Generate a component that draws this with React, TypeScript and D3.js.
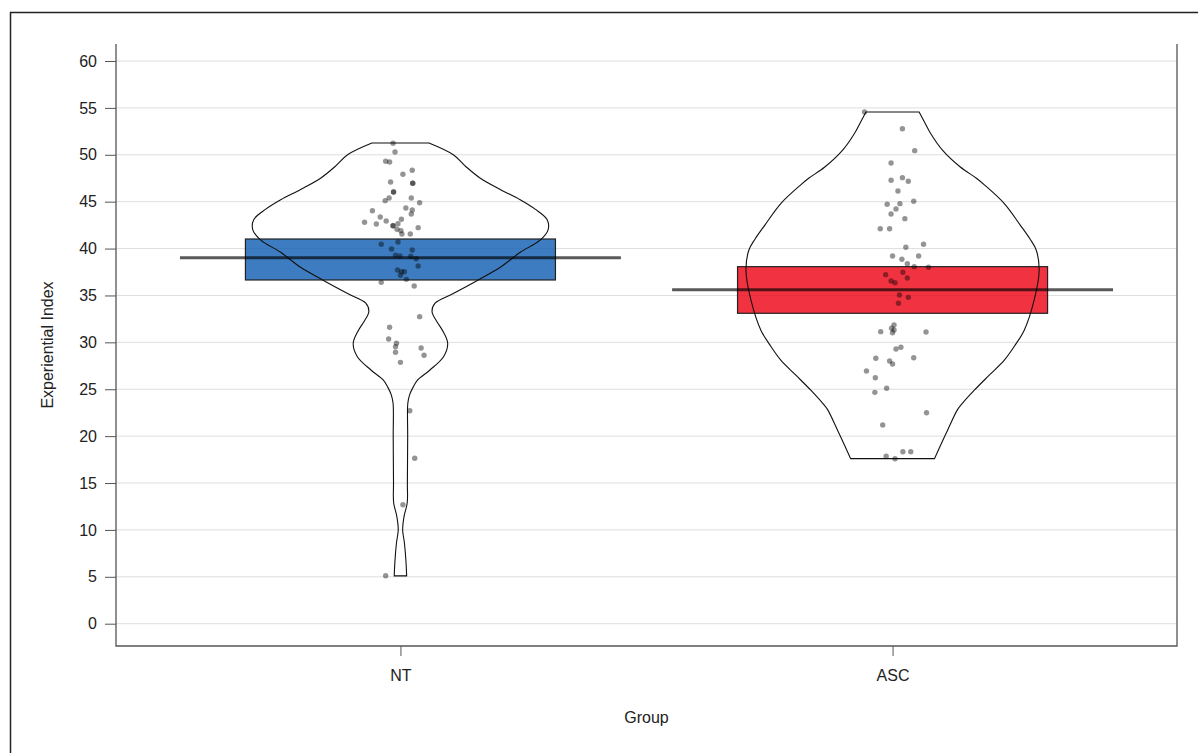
import React, { useRef, useEffect } from 'react';
import * as d3 from 'd3';

const groups = ['NT', 'ASC'];
const groupColors = ['#0C5BB0', '#EE0011'];

const means = [39.03, 35.62];
const bandLow = [36.65, 33.1];
const bandHigh = [41.02, 38.07];

const yTicks = [0, 5, 10, 15, 20, 25, 30, 35, 40, 45, 50, 55, 60];

// raw points: [jitter (category units), value]
const ntPoints = [
  [-0.015, 51.23], [-0.011, 50.3], [-0.03, 49.31], [-0.022, 49.23], [0.005, 47.92],
  [0.024, 48.35], [-0.02, 47.1], [0.025, 46.96], [0.025, 46.96], [-0.014, 46.03],
  [-0.014, 46.03], [-0.031, 45.11], [-0.023, 45.39], [0.022, 45.39], [0.039, 44.89],
  [-0.057, 44.04], [0.011, 44.33], [0.024, 44.11], [0.022, 43.69], [-0.041, 43.37],
  [-0.029, 42.94], [-0.073, 42.8], [-0.049, 42.62], [0.002, 43.12], [-0.005, 42.65],
  [-0.015, 42.44], [-0.015, 42.44], [-0.007, 42.06], [0.001, 41.91], [0.036, 42.23],
  [0.02, 41.56], [0.003, 41.56], [-0.005, 40.7], [-0.039, 40.46], [-0.018, 39.96],
  [0.024, 39.85], [-0.01, 39.28], [-0.001, 39.21], [0.021, 39.18], [0.032, 38.92],
  [0.036, 38.14], [-0.006, 37.72], [0.002, 37.53], [0.008, 37.53], [0.0, 37.15],
  [0.012, 36.72], [-0.039, 36.4], [0.028, 36.01], [0.039, 32.74], [-0.022, 31.61],
  [-0.024, 30.36], [-0.008, 29.9], [-0.01, 29.54], [-0.01, 28.94], [0.042, 29.4],
  [0.048, 28.62], [0.0, 27.87], [0.019, 22.71], [0.029, 17.64], [0.005, 12.69],
  [-0.03, 5.12],
];

const ascPoints = [
  [-0.057, 54.56], [0.02, 52.78], [0.045, 50.44], [-0.003, 49.13], [-0.003, 47.28],
  [0.02, 47.56], [0.032, 47.17], [0.011, 46.14], [0.043, 45.04], [-0.011, 44.72],
  [0.015, 44.79], [0.007, 44.22], [-0.003, 43.69], [0.025, 43.19], [-0.025, 42.12],
  [-0.006, 42.12], [0.063, 40.46], [0.027, 40.14], [0.0, 39.21], [0.019, 38.86],
  [0.053, 39.21], [0.03, 38.39], [0.044, 38.07], [0.073, 38.0], [-0.014, 37.22],
  [0.021, 37.47], [0.03, 36.86], [-0.003, 36.54], [0.005, 36.36], [0.014, 35.05],
  [0.032, 34.8], [0.012, 34.17], [0.003, 31.85], [-0.002, 31.5], [0.003, 31.32],
  [0.0, 31.03], [-0.024, 31.14], [0.068, 31.1], [0.017, 29.47], [0.007, 29.29],
  [-0.034, 28.3], [0.043, 28.36], [-0.006, 28.01], [0.0, 27.69], [-0.053, 26.95],
  [-0.035, 26.23], [-0.012, 25.1], [-0.036, 24.67], [0.069, 22.5], [-0.02, 21.19],
  [0.021, 18.34], [0.037, 18.34], [-0.013, 17.85], [0.005, 17.59],
];

// bean outline: [value, relative density]
const ntDensity = [
  [51.25, 0.193], [50.0, 0.358], [48.7, 0.446], [47.5, 0.541], [46.3, 0.676],
  [45.2, 0.811], [44.2, 0.912], [43.1, 0.993], [42.0, 1.0], [40.9, 0.946],
  [39.6, 0.811], [38.0, 0.676], [36.65, 0.527], [35.2, 0.358], [34.2, 0.236],
  [33.3, 0.214], [32.3, 0.243], [31.3, 0.284], [29.9, 0.32], [28.5, 0.293],
  [27.05, 0.2], [26.0, 0.117], [25.2, 0.085], [24.4, 0.062], [23.5, 0.05],
  [20.0, 0.049], [15.0, 0.047], [12.9, 0.046], [11.4, 0.024], [10.0, 0.015],
  [8.6, 0.027], [6.5, 0.038], [5.1, 0.042],
];

const ascDensity = [
  [54.56, 0.18], [53.5, 0.216], [52.3, 0.257], [50.5, 0.338], [48.7, 0.459],
  [47.5, 0.568], [46.8, 0.622], [44.8, 0.757], [42.5, 0.865], [41.0, 0.932],
  [39.85, 0.973], [37.7, 0.993], [34.5, 0.959], [31.3, 0.892], [29.7, 0.83],
  [28.1, 0.757], [26.5, 0.655], [24.9, 0.554], [23.5, 0.473], [22.8, 0.439],
  [20.6, 0.372], [19.9, 0.351], [17.6, 0.284],
];

const pointSets = [ntPoints, ascPoints];
const densities = [ntDensity, ascDensity];

const WIDTH = 1198;
const HEIGHT = 753;

export default function App() {
  const svgRef = useRef<SVGSVGElement>(null);

  useEffect(() => {
    document.body.style.margin = '0';
    const svg = d3.select(svgRef.current);
    svg.selectAll('*').remove();

    const left = 116, right = 1177, top = 44, bottom = 646;
    const font = '"Liberation Sans", Arial, sans-serif';
    const fontSize = 16;

    const x = d3.scalePoint<string>().domain(groups).range([left, right]).padding(0.578);
    const step = x.step();
    const y = d3.scaleLinear().domain([0, 60]).range([623.7, 61]);

    // outer frame
    svg.append('rect')
      .attr('x', 10.5).attr('y', 12.5)
      .attr('width', 1400).attr('height', 1000)
      .attr('fill', 'none').attr('stroke', '#222').attr('stroke-width', 1.5);

    // grid
    svg.append('g').selectAll('line')
      .data(yTicks)
      .enter().append('line')
      .attr('x1', left).attr('x2', right)
      .attr('y1', d => y(d)).attr('y2', d => y(d))
      .attr('stroke', '#dedede').attr('stroke-width', 1);

    const plot = svg.append('g');

    groups.forEach((g, i) => {
      const cx = x(g) as number;

      // inference band
      plot.append('rect')
        .attr('x', cx - step * 0.315)
        .attr('width', step * 0.63)
        .attr('y', y(bandHigh[i]))
        .attr('height', y(bandLow[i]) - y(bandHigh[i]))
        .attr('fill', groupColors[i]).attr('fill-opacity', 0.8)
        .attr('stroke', '#222').attr('stroke-width', 1.2);

      // bean
      const maxHalf = step * 0.3;
      const area = d3.area<number[]>()
        .y(d => y(d[0]))
        .x0(d => cx - d[1] * maxHalf)
        .x1(d => cx + d[1] * maxHalf)
        .curve(d3.curveCatmullRom);
      plot.append('path')
        .attr('d', area(densities[i]))
        .attr('fill', 'none').attr('stroke', '#111').attr('stroke-width', 1.1);

      // points
      plot.append('g').selectAll('circle')
        .data(pointSets[i])
        .enter().append('circle')
        .attr('cx', d => cx + d[0] * step)
        .attr('cy', d => y(d[1]))
        .attr('r', 2.7)
        .attr('fill', '#000').attr('fill-opacity', 0.42);

      // mean line
      plot.append('line')
        .attr('x1', cx - step * 0.448).attr('x2', cx + step * 0.448)
        .attr('y1', y(means[i])).attr('y2', y(means[i]))
        .attr('stroke', '#000').attr('stroke-opacity', 0.65).attr('stroke-width', 3);
    });

    // axes
    const yAxis = d3.axisLeft(y).tickValues(yTicks).tickSize(11).tickPadding(8).tickSizeOuter(0);
    const ya = svg.append('g').attr('transform', `translate(${left},0)`).call(yAxis);
    ya.select('.domain').remove();
    ya.selectAll('line').attr('stroke', '#555');
    ya.selectAll('text').attr('font-family', font).attr('font-size', fontSize).attr('fill', '#222');

    const xAxis = d3.axisBottom(x).tickSize(10).tickPadding(14).tickSizeOuter(0);
    const xa = svg.append('g').attr('transform', `translate(0,${bottom})`).call(xAxis);
    xa.select('.domain').remove();
    xa.selectAll('line').attr('stroke', '#555');
    xa.selectAll('text').attr('font-family', font).attr('font-size', fontSize).attr('fill', '#222');

    // plot border: left, bottom, right
    svg.append('path')
      .attr('d', `M${left},${top}V${bottom}H${right}V${top}`)
      .attr('fill', 'none').attr('stroke', '#555').attr('stroke-width', 1.3);

    // titles
    svg.append('text')
      .attr('x', (left + right) / 2).attr('y', 723)
      .attr('text-anchor', 'middle')
      .attr('font-family', font).attr('font-size', fontSize).attr('fill', '#222')
      .text('Group');

    svg.append('text')
      .attr('transform', `translate(53,${(top + bottom) / 2}) rotate(-90)`)
      .attr('text-anchor', 'middle')
      .attr('font-family', font).attr('font-size', fontSize).attr('fill', '#222')
      .text('Experiential Index');
  }, []);

  return (
    <svg ref={svgRef} width={WIDTH} height={HEIGHT} style={{ display: 'block', background: '#fff' }} />
  );
}
